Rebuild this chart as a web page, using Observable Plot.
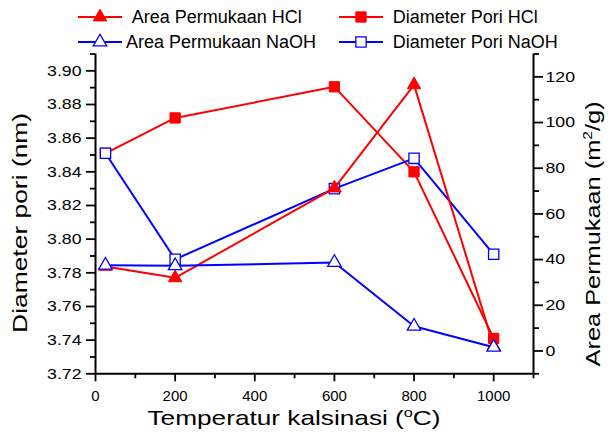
<!DOCTYPE html>
<html><head><meta charset="utf-8">
<script src="https://cdn.jsdelivr.net/npm/d3@7"></script>
<script src="https://cdn.jsdelivr.net/npm/@observablehq/plot@0.6"></script>
<style>
body{margin:0;background:#fff;font-family:"Liberation Sans",Arial,sans-serif;}
#wrap{width:613px;height:434px;position:relative;overflow:hidden;background:#fff}
#legend{position:relative;width:613px;height:50px}
.item{position:absolute;height:18px;line-height:18px;font-size:18px;white-space:nowrap;color:#000}
.sym{position:absolute;top:0;overflow:visible}
</style></head><body>
<div id="wrap"><div id="legend"></div><div id="chart"></div></div>
<script>
// ---- data ----
const temps = [25, 200, 600, 800, 1000];
const diamHCl = [3.851, 3.872, 3.8905, 3.840, 3.741];
const diamNaOH = [3.851, 3.788, 3.830, 3.848, 3.791];
const areaHCl = [37, 32, 71.3, 116.5, 2];
const areaNaOH = [37.5, 37.3, 38.7, 10.8, 1.6];
const seriesNames = ["Area Permukaan HCl", "Diameter Pori HCl", "Area Permukaan NaOH", "Diameter Pori NaOH"];
const xTicks = [0, 200, 400, 600, 800, 1000];
const xMinor = [100, 300, 500, 700, 900, 1100];
const yTicks = [3.72, 3.74, 3.76, 3.78, 3.80, 3.82, 3.84, 3.86, 3.88, 3.90];
const yMinor = [3.73, 3.75, 3.77, 3.79, 3.81, 3.83, 3.85, 3.87, 3.89, 3.91];
const areaTicks = [0, 20, 40, 60, 80, 100, 120];
const areaMinor = [-10, 10, 30, 50, 70, 90, 110, 130];
const xDomain = [0, 1100];
const yDomain = [3.72, 3.91];
const areaDomain = [-10, 130];
const xTitle = "Temperatur kalsinasi (°C)";
const yTitle = "Diameter pori (nm)";
const y2Title = "Area Permukaan (m²/g)";

const RED = "#ff0000", BLUE = "#0000ff";
const k = (yDomain[1] - yDomain[0]) / (areaDomain[1] - areaDomain[0]);
const toD = a => yDomain[0] + (a - areaDomain[0]) * k;
const fromD = d => areaDomain[0] + (d - yDomain[0]) / k;

const rows = temps.map((t, i) => ({t, dHCl: diamHCl[i], dNaOH: diamNaOH[i], aHCl: toD(areaHCl[i]), aNaOH: toD(areaNaOH[i])}));

const font = "'Liberation Sans', Arial, sans-serif";
const chart = Plot.plot({
  width: 613, height: 384,
  marginLeft: 95, marginRight: 80, marginTop: 3.5, marginBottom: 60.7,
  x: {domain: xDomain},
  y: {domain: yDomain},
  style: {fontFamily: font, fontSize: "15px", color: "#000", background: "#fff", overflow: "visible"},
  marks: [
    Plot.axisX(xTicks, {tickSize: 8, tickPadding: 9, strokeWidth: 1.8, label: null, fontSize: 15, tickFormat: d => String(d)}),
    Plot.axisX(xMinor, {tickSize: 5, strokeWidth: 1.8, label: null, tickFormat: () => ""}),
    Plot.axisY(yTicks, {anchor: "left", tickSize: 9, tickPadding: 5, strokeWidth: 1.8, label: null, fontSize: 15, tickFormat: d3.format(".2f")}),
    Plot.axisY(yMinor, {anchor: "left", tickSize: 5, strokeWidth: 1.8, label: null, tickFormat: () => ""}),
    Plot.axisY(areaTicks.map(toD), {anchor: "right", tickSize: 9, tickPadding: 3, strokeWidth: 1.8, label: null, fontSize: 15, tickFormat: d => String(Math.round(fromD(d)))}),
    Plot.axisY(areaMinor.map(toD), {anchor: "right", tickSize: 5, strokeWidth: 1.8, label: null, tickFormat: () => ""}),
    Plot.ruleX([xDomain[0]], {stroke: "#000", strokeWidth: 2}),
    Plot.ruleX([xDomain[1]], {stroke: "#000", strokeWidth: 2}),
    Plot.ruleY([yDomain[0]], {stroke: "#000", strokeWidth: 2}),
    // series, drawn line + symbols per series
    Plot.line(rows, {x: "t", y: "dHCl", stroke: RED, strokeWidth: 2}),
    Plot.dot(rows, {x: "t", y: "dHCl", symbol: "square", r: 5.8, fill: RED, stroke: RED, strokeWidth: 1}),
    Plot.line(rows, {x: "t", y: "dNaOH", stroke: BLUE, strokeWidth: 2}),
    Plot.dot(rows, {x: "t", y: "dNaOH", symbol: "square", r: 5.8, fill: "#fff", stroke: BLUE, strokeWidth: 1.3}),
    Plot.line(rows, {x: "t", y: "aHCl", stroke: RED, strokeWidth: 2}),
    Plot.dot(rows, {x: "t", y: "aHCl", symbol: "triangle", r: 5, fill: RED, stroke: RED, strokeWidth: 1}),
    Plot.line(rows, {x: "t", y: "aNaOH", stroke: BLUE, strokeWidth: 2}),
    Plot.dot(rows, {x: "t", y: "aNaOH", symbol: "triangle", r: 5, fill: "#fff", stroke: BLUE, strokeWidth: 1.3}),
    // titles
    Plot.text([xTitle], {text: d => d, frameAnchor: "bottom", textAnchor: "middle", dx: -20.5, dy: 44, fontSize: 21, lineAnchor: "middle"}),
    Plot.text([yTitle], {text: d => d, frameAnchor: "left", textAnchor: "middle", rotate: -90, dx: -75, dy: 9, fontSize: 21, lineAnchor: "middle"}),
    Plot.text([y2Title], {text: d => d, frameAnchor: "right", textAnchor: "middle", rotate: -90, dx: 60, dy: 20, fontSize: 21, lineAnchor: "middle"})
  ]
});
document.getElementById("chart").appendChild(chart);

// stretch y tick labels horizontally (as in reference)
chart.querySelectorAll('g[aria-label="y-axis tick label"] text').forEach(t => {
  const tr = t.getAttribute("transform") || "";
  t.setAttribute("transform", tr + " scale(1.18,1)");
});

// titles: stretch length and superscripts
const NS = "http://www.w3.org/2000/svg";
chart.querySelectorAll("text").forEach(t => {
  const s = t.textContent;
  let len = null, parts = null;
  if (s === xTitle) { len = 293; parts = ["Temperatur kalsinasi (", "o", "C)"]; }
  else if (s === yTitle) { len = 220; }
  else if (s === y2Title) { len = 265; parts = ["Area Permukaan (m", "2", "/g)"]; }
  if (len == null) return;
  t.setAttribute("text-anchor", "middle");
  if (parts) {
    t.textContent = "";
    const a = document.createElementNS(NS, "tspan"); a.textContent = parts[0];
    const b = document.createElementNS(NS, "tspan"); b.textContent = parts[1];
    b.setAttribute("font-size", "13"); b.setAttribute("dy", "-8");
    const c = document.createElementNS(NS, "tspan"); c.textContent = parts[2]; c.setAttribute("dy", "8");
    t.append(a, b, c);
  }
  t.setAttribute("textLength", len);
  t.setAttribute("lengthAdjust", "spacingAndGlyphs");
});

// ---- legend ----
const legend = d3.select("#legend");
const legendItems = [
  {name: seriesNames[0], color: RED, symbol: d3.symbolTriangle, fill: RED, lx: 78, tx: 131.7, cy: 17.3, r: 5},
  {name: seriesNames[1], color: RED, symbol: d3.symbolSquare, fill: RED, lx: 339, tx: 392.7, cy: 17.3, r: 5.8},
  {name: seriesNames[2], color: BLUE, symbol: d3.symbolTriangle, fill: "none", lx: 78, tx: 126, cy: 41.7, r: 5},
  {name: seriesNames[3], color: BLUE, symbol: d3.symbolSquare, fill: "none", lx: 339, tx: 392.7, cy: 41.7, r: 5.8}
];
legendItems.forEach(it => {
  const s = legend.append("svg").attr("class", "sym")
    .attr("width", 44).attr("height", 18)
    .style("left", it.lx + "px").style("top", (it.cy - 9) + "px");
  s.append("line").attr("x1", 0).attr("x2", 44).attr("y1", 9).attr("y2", 9)
    .attr("stroke", it.color).attr("stroke-width", 2);
  s.append("path").attr("d", d3.symbol(it.symbol, Math.PI * it.r * it.r)())
    .attr("transform", "translate(22,9)")
    .attr("fill", it.fill === "none" ? "#fff" : it.fill).attr("stroke", it.color)
    .attr("stroke-width", it.fill === "none" ? 1.3 : 1);
  legend.append("div").attr("class", "item")
    .style("left", it.tx + "px").style("top", (it.cy - 9) + "px")
    .text(it.name);
});
</script>
</body></html>
